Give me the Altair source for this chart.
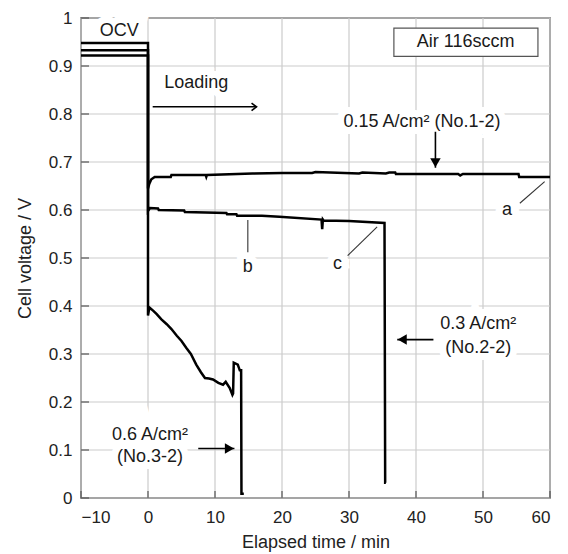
import altair as alt
import pandas as pd

# ---- data ----
# 0.15 A/cm2 (No.1-2)  -> curve "a"
a_x = [-10, 0, 0, 0.2, 0.5, 1.0, 3.4, 3.5, 8.6, 8.7, 8.8, 15.6, 20, 24.5, 25.0, 31.5, 32.0, 35.5, 36.0, 36.9, 37.0, 46.3, 46.6, 47.0, 55.3, 55.4, 60]
a_y = [0.948, 0.948, 0.645, 0.655, 0.664, 0.669, 0.669, 0.673, 0.673, 0.669, 0.673, 0.676, 0.677, 0.677, 0.679, 0.676, 0.678, 0.676, 0.678, 0.678, 0.675, 0.675, 0.672, 0.675, 0.675, 0.669, 0.669]

# 0.3 A/cm2 (No.2-2) -> curve "c"
c_x = [-10, 0, 0, 0.3, 1.5, 1.6, 5.4, 5.5, 11.7, 11.8, 13.2, 13.3, 17, 19.6, 25.9, 26.0, 26.1, 26.2, 30, 35.3, 35.4, 35.5]
c_y = [0.933, 0.933, 0.598, 0.604, 0.603, 0.600, 0.599, 0.596, 0.594, 0.591, 0.591, 0.588, 0.588, 0.586, 0.580, 0.560, 0.580, 0.578, 0.577, 0.573, 0.032, 0.032]

# 0.6 A/cm2 (No.3-2)
d_x = [-10, 0, 0, 0.2, 0.8, 1.3, 2.0, 2.8, 3.5, 4.3, 5.0, 5.7, 6.4, 7.2, 7.9, 8.5, 9.1, 9.7, 10.5, 11.2, 11.6, 12.2, 12.6, 12.7, 12.8, 13.4, 13.7, 13.9, 13.95, 14.3]
d_y = [0.922, 0.922, 0.380, 0.397, 0.390, 0.383, 0.372, 0.362, 0.352, 0.338, 0.327, 0.313, 0.300, 0.278, 0.262, 0.250, 0.249, 0.247, 0.240, 0.236, 0.242, 0.229, 0.215, 0.218, 0.282, 0.278, 0.266, 0.266, 0.009, 0.009]

x_ticks = [-10, 0, 10, 20, 30, 40, 50, 60]
y_ticks = [0, 0.1, 0.2, 0.3, 0.4, 0.5, 0.6, 0.7, 0.8, 0.9, 1.0]

# annotations
ann_text = ["OCV", "Loading", "0.15 A/cm² (No.1-2)", "a", "b", "c",
            "0.3 A/cm²", "(No.2-2)", "0.6 A/cm²", "(No.3-2)"]
ann_x = [-4.3, 7.2, 40.9, 53.6, 14.9, 28.3, 49.3, 49.3, 0.3, 0.3]
ann_y = [0.973, 0.864, 0.784, 0.600, 0.481, 0.488, 0.362, 0.313, 0.131, 0.086]

box_label = ["Air 116sccm"]
box_x = [36.7]
box_x2 = [58.2]
box_y = [0.979]
box_y2 = [0.920]
box_cx = [47.4]
box_cy = [0.950]

# arrows (shafts) and leader lines
arrow_x = [0.7, 42.9, 42.6, 7.5]
arrow_y = [0.815, 0.763, 0.33, 0.103]
arrow_x2 = [16.2, 42.9, 37.2, 12.9]
arrow_y2 = [0.815, 0.688, 0.33, 0.103]

leader_x = [55.5, 14.9, 29.8]
leader_y = [0.614, 0.512, 0.505]
leader_x2 = [59.2, 14.9, 34.2]
leader_y2 = [0.659, 0.579, 0.565]

# ---- build tables ----
rows = []
for name, xs, ys in [("a", a_x, a_y), ("c", c_x, c_y), ("d", d_x, d_y)]:
    for i, (xv, yv) in enumerate(zip(xs, ys)):
        rows.append({"series": name, "t": xv, "v": yv, "order": i})
curves = pd.DataFrame(rows)

ann = pd.DataFrame({"text": ann_text, "t": ann_x, "v": ann_y})
box = pd.DataFrame({"label": box_label, "t": box_x, "t2": box_x2, "v": box_y, "v2": box_y2,
                    "cx": box_cx, "cy": box_cy})
arrows = pd.DataFrame({"t": arrow_x, "v": arrow_y, "t2": arrow_x2, "v2": arrow_y2})
leaders = pd.DataFrame({"t": leader_x, "v": leader_y, "t2": leader_x2, "v2": leader_y2})
heads = pd.DataFrame({"t": arrow_x2[1:], "v": arrow_y2[1:]})
open_head = pd.DataFrame({"t": [arrow_x2[0]], "v": [arrow_y2[0]]})
xt = pd.DataFrame({"t": x_ticks, "lo": y_ticks[0], "hi": y_ticks[-1]})
yt = pd.DataFrame({"v": y_ticks, "lo": x_ticks[0], "hi": x_ticks[-1]})

FONT = "Liberation Sans"
W, H = 469, 480
GRID = "#cccccc"

xscale = alt.Scale(domain=[-10, 60], nice=False, zero=False)
yscale = alt.Scale(domain=[0, 1], nice=False, zero=False)

X = alt.X("t:Q", scale=xscale,
          axis=alt.Axis(values=x_ticks, title="Elapsed time / min", grid=False,
                        ticks=False, domain=False, labelPadding=11, titlePadding=8))
Y = alt.Y("v:Q", scale=yscale,
          axis=alt.Axis(values=y_ticks, format="~g", title="Cell voltage / V", grid=False,
                        ticks=False, domain=False, labelPadding=9, titlePadding=14))

x_grid = alt.Chart(xt).mark_rule(color=GRID, strokeWidth=1.2).encode(
    x="t:Q", y="lo:Q", y2="hi:Q")
y_grid = alt.Chart(yt).mark_rule(color=GRID, strokeWidth=1.2).encode(
    y="v:Q", x="lo:Q", x2="hi:Q")

base_curve = alt.Chart(curves).mark_line(color="black", strokeWidth=2.5,
                                          strokeJoin="miter", interpolate="linear").encode(
    x=X, y=Y, detail="series:N", order="order:Q")

box_rect = alt.Chart(box).mark_rect(fill="white", stroke="#555", strokeWidth=1.2).encode(
    x="t:Q", x2="t2:Q", y="v:Q", y2="v2:Q")
box_text = alt.Chart(box).mark_text(font=FONT, fontSize=18, color="#1a1a1a",
                                    align="center", baseline="middle").encode(
    x="cx:Q", y="cy:Q", text="label:N")

halo = alt.Chart(ann).mark_text(font=FONT, fontSize=18, color="white", stroke="white",
                                strokeWidth=14, align="center", baseline="middle").encode(
    x="t:Q", y="v:Q", text="text:N")
texts = alt.Chart(ann).mark_text(font=FONT, fontSize=18, color="#1a1a1a",
                                 align="center", baseline="middle").encode(
    x="t:Q", y="v:Q", text="text:N")

arrow_rules = alt.Chart(arrows).mark_rule(color="black", strokeWidth=1.6).encode(
    x="t:Q", y="v:Q", x2="t2:Q", y2="v2:Q")
leader_rules = alt.Chart(leaders).mark_rule(color="#333", strokeWidth=1.1).encode(
    x="t:Q", y="v:Q", x2="t2:Q", y2="v2:Q")

head_down = alt.Chart(heads.iloc[[0]]).mark_point(shape="triangle-down", filled=True, color="black",
                                                  size=110, opacity=1, yOffset=-5).encode(x="t:Q", y="v:Q")
head_left = alt.Chart(heads.iloc[[1]]).mark_point(shape="triangle-left", filled=True, color="black",
                                                  size=110, opacity=1, xOffset=5).encode(x="t:Q", y="v:Q")
head_right = alt.Chart(heads.iloc[[2]]).mark_point(shape="triangle-right", filled=True, color="black",
                                                   size=110, opacity=1, xOffset=-5).encode(x="t:Q", y="v:Q")
open_arrow = alt.Chart(open_head).mark_point(shape="M-1,-0.75L0,0L-1,0.75", filled=False,
                                             color="black", strokeWidth=1.6, size=100, opacity=1).encode(
    x="t:Q", y="v:Q")

x_tick_marks = alt.Chart(xt).mark_rule(color="#555", strokeWidth=1.2).encode(
    x="t:Q", y=alt.value(H), y2=alt.value(H - 7))
y_tick_marks = alt.Chart(yt).mark_rule(color="#555", strokeWidth=1.2).encode(
    y="v:Q", x=alt.value(0), x2=alt.value(8))

chart = alt.layer(
    base_curve.mark_line(opacity=0).encode(x=X, y=Y),
    x_grid, y_grid,
    halo, box_rect, box_text, base_curve, leader_rules, arrow_rules,
    head_down, head_left, head_right, open_arrow, texts, x_tick_marks, y_tick_marks
).properties(
    width=W, height=H,
    background="white",
    autosize=alt.AutoSizeParams(type="none"),
    padding={"left": 73, "top": 10, "right": 10, "bottom": 56}
).configure_view(
    stroke="#555", strokeWidth=1.5
).configure_axis(
    labelFont=FONT, labelFontSize=17, labelColor="#222",
    titleFont=FONT, titleFontSize=18, titleFontWeight="normal", titleColor="#222"
)

chart.save("out.html", embed_options={"renderer": "svg", "actions": False})
